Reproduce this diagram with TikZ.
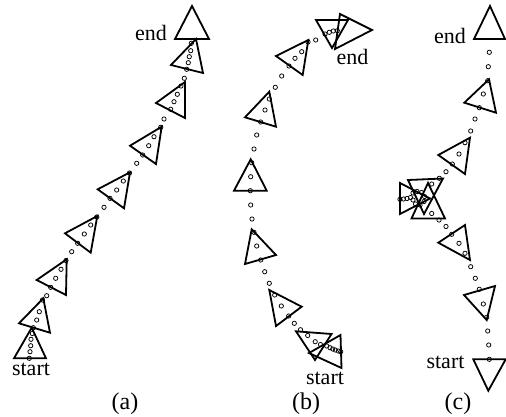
\documentclass[tikz,border=0pt]{standalone}
\usepackage{fontspec}
\setmainfont{Liberation Serif}
\begin{document}
\begin{tikzpicture}[x=1pt,y=-1pt,
  tri/.style={draw=black, line width=1.8pt, line join=miter, fill=none},
  pdot/.style={circle, draw=black, line width=0.75pt, inner sep=0pt, minimum size=4.3pt},
  lbl/.style={font=\fontsize{22}{22}\selectfont, anchor=base, inner sep=0pt},
  captxt/.style={font=\fontsize{24}{24}\selectfont, anchor=base, inner sep=0pt}]
\useasboundingbox (0,0) rectangle (506,416);
\newcommand{\tri}[3]{\draw[tri] #1 -- #2 -- #3 -- cycle;}
% ---------- (a) ----------
\tri{(192,6)}{(175,39)}{(209,39)}
\tri{(196,39)}{(171,65)}{(203,73)}
\tri{(185,82)}{(156,103)}{(185,118)}
\tri{(161.7,126.7)}{(130,145.7)}{(156,164)}
\tri{(130,172.3)}{(97.7,189.3)}{(124,208.3)}
\tri{(97.3,216)}{(65,233.3)}{(90.7,252.7)}
\tri{(66.7,259.3)}{(36.7,280)}{(66,295)}
\tri{(43.3,298.3)}{(19,323.3)}{(50,332.7)}
\tri{(31.7,327.7)}{(14,358.3)}{(46,358.3)}
\foreach \p in {(191.3,43.3),(190.7,50.7),(189.3,56.7),(188.3,62.7),(186.7,69.3),(184.3,78.3),
  (181,86),(177.3,94.3),(174,101.7),(170.7,109.3),(164,119),(160.7,127.3),
  (154,136.7),(148.7,145.7),(142.7,155),(136.7,163.3),
  (129.5,173),(123.3,181),(116.7,190),(110,198.3),(104,207.3),
  (96.8,217),(90.7,225),(84.3,234),(77.7,243.3),(71.7,251.7),
  (66,260.5),(61,269.3),(55.7,278.3),(50.7,287.3),(46.7,295.7),
  (42.5,300),(39.3,311.7),(36.7,320),(33.3,327.7),
  (32.3,333.5),(31,339.3),(30.7,345.7),(30,351.7),(29.3,358.3)}
  \node[pdot] at \p {};
\node[lbl] (enda) at (151,40) {end};
\node[lbl] (starta) at (31,375) {start};
\node[captxt] (capa) at (125,409) {(a)};
% ---------- (b) ----------
\tri{(316,20)}{(348,20)}{(332,48)}
\tri{(340,14)}{(372,30)}{(335,49)}
\tri{(308.3,40)}{(276,56)}{(302.7,75)}
\tri{(269.3,91.7)}{(245,117.3)}{(276,126.7)}
\tri{(250.7,159.3)}{(234,190.7)}{(266.7,190.7)}
\tri{(251.7,229.3)}{(245,264)}{(276,255)}
\tri{(269.3,290)}{(301.7,306.7)}{(276,326)}
\tri{(296,331.3)}{(331.5,334)}{(315,360)}
\tri{(309,353)}{(340.5,335)}{(341.5,368)}
\foreach \p in {(325,34),(329.3,32.3),(333.3,31),(337.3,30.7),(315.7,40),
  (308,42),(301.7,51.7),(295,58.3),(289,66),(281.7,76),(275.3,87.3),
  (269.3,99),(265,110),(260.7,122),(256.7,135),(254,149),
  (251.7,162.7),(250.7,176.7),(250.3,190.7),(250.7,205),(252,219),
  (254,232.3),(256.7,246),(260.7,260),(264.7,271.7),(269.3,283.3),
  (274.7,295),(281.3,306),(288.7,316),(294.3,323.3),
  (300.5,329.7),(307.7,335.5),(315.2,341.7),(320.5,344.5),
  (326.7,346),(330,347.7),(332.7,349),(335.3,350),(338.3,351),(340.7,351.7)}
  \node[pdot] at \p {};
\node[lbl] (endb) at (352.5,64) {end};
\node[lbl] (startb) at (325,384) {start};
\node[captxt] (capb) at (306,409) {(b)};
% ---------- (c) ----------
\tri{(490,6)}{(474,39)}{(505,39)}
\tri{(489,79.3)}{(464.3,102.7)}{(496,112.7)}
\tri{(470,137.7)}{(438.3,155)}{(465,174)}
\tri{(400,183)}{(400,214)}{(430,198.5)}
\tri{(408,180)}{(443,178.5)}{(424,214)}
\tri{(428,183)}{(411.5,218.5)}{(445,218.5)}
\tri{(465,225)}{(438.3,242.7)}{(470,260)}
\tri{(464,295)}{(495,286)}{(486.7,320)}
\tri{(473.3,359.3)}{(505.7,359.3)}{(488.3,390.7)}
\foreach \p in {(489.3,52.3),(488.3,66.7),
  (487.7,80.7),(483.3,94),(479.3,107.7),(475,119),(470.7,131),
  (465,142.7),(459,154),(452.3,164),(446,171.7),(439.3,178.3),(431.7,184),
  (400,199.3),(403.5,199),(407,198.5),(410.5,197.5),
  (413,193),(417,191.5),(421.5,192.5),(424.5,196.5),(424,201.5),(420,205),(415.5,204),(413,200),
  (431.7,213.5),(439,220),(446,226.5),
  (451.7,234.3),(459,243.3),(465,253.3),(470.7,266.7),(475.3,278.3),
  (479.3,289.3),(483.3,304),(486.7,317.3),(487.7,331),(488.7,345),(489.3,359.3)}
  \node[pdot] at \p {};
\node[lbl] (endc) at (450,43) {end};
\node[lbl] (startc) at (445.5,368) {start};
\node[captxt] (capc) at (458,409) {(c)};
\end{tikzpicture}
\end{document}
